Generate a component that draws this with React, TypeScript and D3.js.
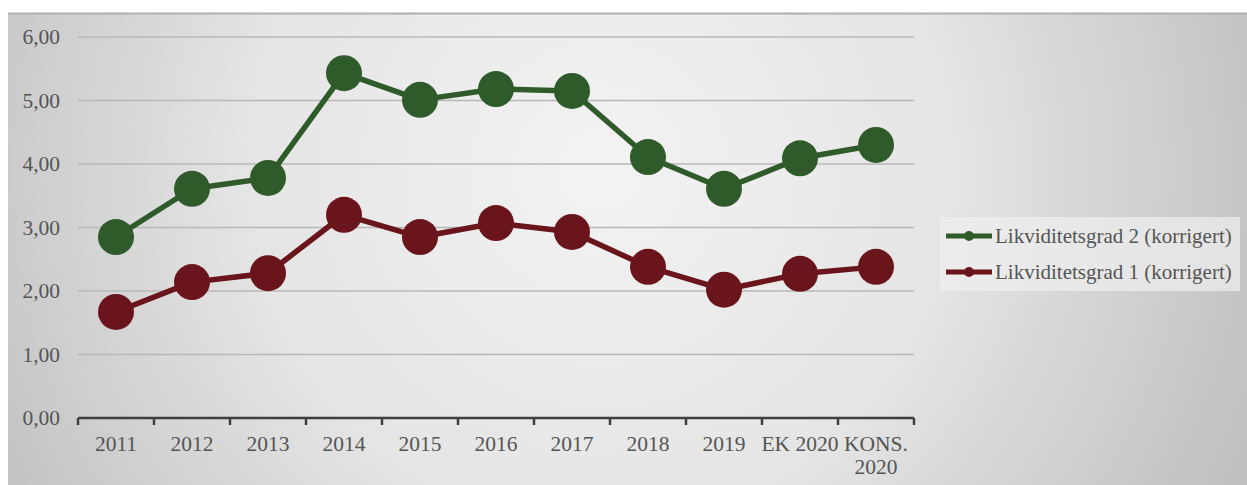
import React from "react";
import * as d3 from "d3";

const categories = ["2011", "2012", "2013", "2014", "2015", "2016", "2017", "2018", "2019", "EK 2020", "KONS. 2020"];
const grad2 = [2.85, 3.61, 3.78, 5.43, 5.01, 5.18, 5.15, 4.11, 3.61, 4.09, 4.30];
const grad1 = [1.67, 2.14, 2.28, 3.20, 2.85, 3.07, 2.93, 2.38, 2.02, 2.27, 2.38];
const yTicks = [0, 1, 2, 3, 4, 5, 6];
const seriesNames = ["Likviditetsgrad 2 (korrigert)", "Likviditetsgrad 1 (korrigert)"];
const seriesColors = ["#2f5a2a", "#6a151c"];

const W = 1247, H = 485;
const left = 78, right = 914, top = 37, bottom = 418;
const FONT = "'Liberation Serif', serif";

export default function App() {
  const x = d3.scaleBand<string>().domain(categories).range([left, right]);
  const y = d3.scaleLinear().domain([0, 6]).range([bottom, top]);
  const line = d3.line<number>()
    .x((_, i) => (x(categories[i]) as number) + x.bandwidth() / 2)
    .y((d) => y(d));
  const series = [grad2, grad1];
  const fmt = (v: number) => v.toFixed(2).replace(".", ",");

  return (
    <svg width={W} height={H} style={{ position: "absolute", left: 0, top: 0 }}>
      <defs>
        <radialGradient id="bg" gradientUnits="userSpaceOnUse" cx={600} cy={170} r={700}>
          <stop offset="0" stopColor="#f3f3f3" />
          <stop offset="0.5" stopColor="#e5e5e5" />
          <stop offset="1" stopColor="#c0c0c0" />
        </radialGradient>
      </defs>
      <rect x={0} y={0} width={W} height={H} fill="#ffffff" />
      <rect x={8} y={13} width={W - 8} height={H - 13} fill="url(#bg)" />
      <line x1={8} x2={W} y1={13.5} y2={13.5} stroke="#b0b0b0" strokeWidth={2} />

      {yTicks.filter((t) => t > 0).map((t) => (
        <line key={t} x1={left} x2={right} y1={y(t)} y2={y(t)} stroke="#b8b8b8" strokeWidth={1.5} />
      ))}
      {yTicks.map((t) => (
        <text key={"l" + t} x={60} y={y(t)} dy="0.33em" textAnchor="end" fontFamily={FONT} fontSize={21.5} fill="#555">
          {fmt(t)}
        </text>
      ))}

      <line x1={left} x2={right} y1={bottom} y2={bottom} stroke="#3f3f3f" strokeWidth={2.5} />
      {d3.range(categories.length + 1).map((i) => {
        const px = left + i * x.step();
        return <line key={"t" + i} x1={px} x2={px} y1={bottom} y2={bottom + 7} stroke="#3f3f3f" strokeWidth={2.5} />;
      })}
      {categories.map((c) => {
        const cx = (x(c) as number) + x.bandwidth() / 2;
        const parts = c === "KONS. 2020" ? ["KONS.", "2020"] : [c];
        return (
          <text key={c} x={cx} y={451} textAnchor="middle" fontFamily={FONT} fontSize={21.5} fill="#555">
            {parts.map((p, i) => (
              <tspan key={i} x={cx} dy={i === 0 ? 0 : 23}>{p}</tspan>
            ))}
          </text>
        );
      })}

      {series.map((s, si) => (
        <g key={si}>
          <path d={line(s) || ""} fill="none" stroke={seriesColors[si]} strokeWidth={5.5} strokeLinejoin="round" />
          {s.map((v, i) => (
            <circle key={i} cx={(x(categories[i]) as number) + x.bandwidth() / 2} cy={y(v)} r={18} fill={seriesColors[si]} />
          ))}
        </g>
      ))}

      <rect x={940} y={217} width={300} height={74} fill="#efefef" opacity={0.7} />
      {seriesNames.map((n, i) => {
        const ly = 236 + i * 36;
        return (
          <g key={n}>
            <line x1={946} x2={992} y1={ly} y2={ly} stroke={seriesColors[i]} strokeWidth={5} />
            <circle cx={969} cy={ly} r={5} fill={seriesColors[i]} />
            <text x={995} y={ly} dy="0.33em" fontFamily={FONT} fontSize={21} fill="#555">{n}</text>
          </g>
        );
      })}
    </svg>
  );
}
